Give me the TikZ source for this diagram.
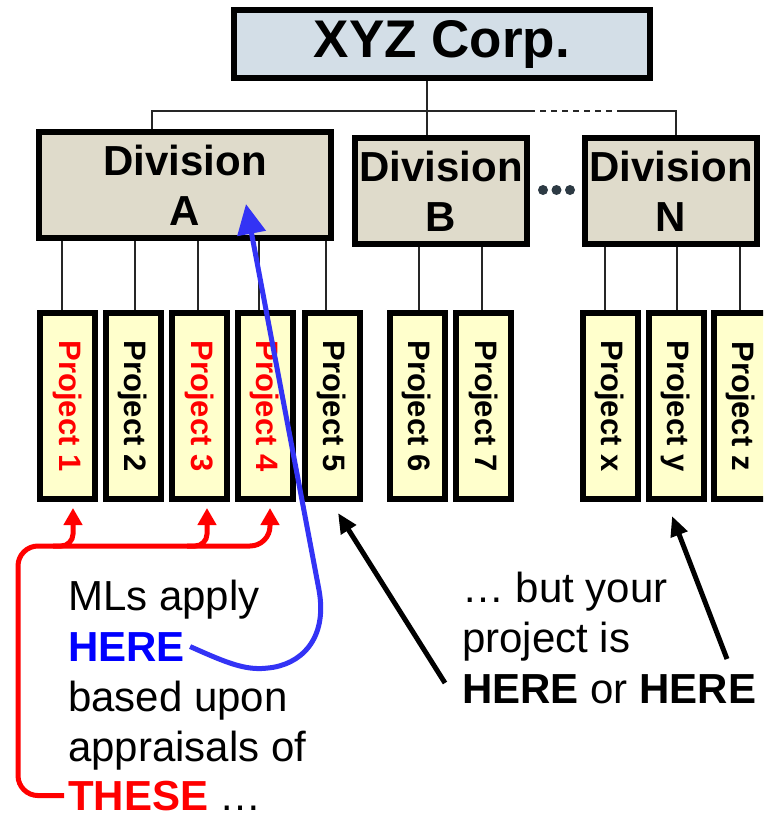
\documentclass[tikz,border=0pt]{standalone}
\usepackage{fontspec}
\setmainfont{Liberation Sans}
\usepackage{graphicx}
\usetikzlibrary{arrows.meta}
\definecolor{corpfill}{HTML}{D3DEE7}
\definecolor{divfill}{HTML}{DFDBCB}
\definecolor{projfill}{HTML}{FFFFCC}
\definecolor{arrblue}{HTML}{3333F5}
\definecolor{txtblue}{HTML}{0000FF}
\definecolor{dotcol}{HTML}{2D3A44}
\begin{document}
\begin{tikzpicture}[x=1pt,y=-1pt,
  box/.style={draw=black, line width=6pt, inner sep=0pt},
  corpbox/.style={box, fill=corpfill, minimum width=416pt, minimum height=68pt, font=\fontsize{53}{53}\selectfont\bfseries},
  divbox/.style={box, fill=divfill, minimum height=106pt, align=center, font=\fontsize{42}{50}\selectfont\bfseries},
  projbox/.style={box, fill=projfill, minimum width=55pt, minimum height=186pt, font=\fontsize{31}{31}\selectfont\bfseries},
  conn/.style={draw=black!85, line width=1.3pt},
  txt/.style={anchor=base west, inner sep=0pt, font=\fontsize{42}{50}\selectfont},
  redarr/.style={draw=red, line width=5pt, -{Triangle[length=17pt,width=18pt]}},
  bluearr/.style={draw=arrblue, line width=5pt, -{Triangle[length=30pt,width=28pt]}},
  blackarr/.style={draw=black, line width=5pt, -{Triangle[length=20pt,width=17pt]}},
]
\useasboundingbox (0,0) rectangle (763,819);
\clip (0,0) rectangle (763,819);

% boxes
\node[corpbox] (corp) at (442,44) {XYZ Corp.};
\node[divbox, minimum width=292pt] (divA) at (185,185) {Division\\A};
\node[divbox, minimum width=172pt] (divB) at (441,191) {Division\\B};
\node[divbox, minimum width=172pt] (divN) at (671,191) {Division\\N};

\node[projbox, text=red] (p1) at (67.5,406) {\rotatebox{-90}{Project 1}};
\node[projbox] (p2) at (133,406) {\rotatebox{-90}{Project 2}};
\node[projbox, text=red] (p3) at (199.5,406) {\rotatebox{-90}{Project 3}};
\node[projbox, text=red] (p4) at (265,406) {\rotatebox{-90}{Project 4}};
\node[projbox] (p5) at (332,406) {\rotatebox{-90}{Project 5}};
\node[projbox] (p6) at (417,406) {\rotatebox{-90}{Project 6}};
\node[projbox] (p7) at (483.5,406) {\rotatebox{-90}{Project 7}};
\node[projbox] (px) at (610,406) {\rotatebox{-90}{Project x}};
\node[projbox] (py) at (676,406) {\rotatebox{-90}{Project y}};
\node[projbox] (pz) at (741,406) {\rotatebox{-90}{Project z}};

% dots between divisions
\fill[dotcol] (543,190) circle (5pt);
\fill[dotcol] (556.5,190) circle (5pt);
\fill[dotcol] (570,190) circle (5pt);

% top connectors
\coordinate (bus) at (427,111);
\coordinate (busA) at (152,111);
\coordinate (busN) at (676,111);
\coordinate (dashL) at (529,111);
\coordinate (dashR) at (620,111);
\draw[conn] (bus |- corp.south) -- (bus |- divB.north);
\draw[conn] (busA |- divA.north) -- (busA) -- (dashL);
\draw[conn, dash pattern=on 6pt off 5pt] (dashL) -- (dashR);
\draw[conn] (dashR) -- (busN) -- (busN |- divN.north);

% division to project connectors
\foreach \p/\d/\s in {p1/divA/-5.5, p2/divA/2, p3/divA/-1.5, p4/divA/-6, p5/divA/-6,
                      p6/divB/2, p7/divB/-1.5, px/divN/-5, py/divN/1, pz/divN/-1}
  \draw[conn] ([xshift=\s pt]\p.north) -- ([xshift=\s pt]\p.north |- \d.south);

% left text
\node[txt] (l1) at (68,610) {MLs apply};
\node[txt, text=txtblue, font=\fontsize{42}{50}\selectfont\bfseries] (here) at (68,661) {HERE};
\node[txt] (l3) at (68,711) {based upon};
\node[txt] (l4) at (68,761) {appraisals of};
\node[txt] (these) at (68,810) {\textcolor{red}{\textbf{THESE}} …};

% right text
\node[txt] (r1) at (462,602) {… but your};
\node[txt] (r2) at (462,652) {project is};
\node[txt] (r3) at (462,703) {\textbf{HERE} or \textbf{HERE}};

% arrow end points
\coordinate (t1) at ([shift={(5.5,6)}]p1.south);
\coordinate (t3) at ([shift={(7.5,6)}]p3.south);
\coordinate (t4) at ([shift={(5,6)}]p4.south);
\coordinate (t5) at ([shift={(6,11)}]p5.south);
\coordinate (ty) at ([shift={(-4,14)}]py.south);
\coordinate (bluetip) at (246,204);
\coordinate (redTL) at (18,546);
\coordinate (bs1) at (445,683);
\coordinate (bs2) at (727,659);

% red arrows
\draw[redarr, rounded corners=20pt] ([xshift=-4pt]these.west) -- (these.west -| redTL) -- (redTL) -- (redTL -| t4) -- (t4);
\draw[redarr, rounded corners=12pt] ([xshift=-20pt]t1 |- redTL) -| (t1);
\draw[redarr, rounded corners=12pt] ([xshift=-20pt]t3 |- redTL) -| (t3);

% blue arrow
\draw[bluearr] ([xshift=5pt]here.east) .. controls (225,662) and (245,671) .. (268,668)
   .. controls (300,665) and (328,640) .. (319,590) -- (bluetip);

% black arrows
\draw[blackarr] (bs1) -- (t5);
\draw[blackarr] (bs2) -- (ty);
\end{tikzpicture}
\end{document}
